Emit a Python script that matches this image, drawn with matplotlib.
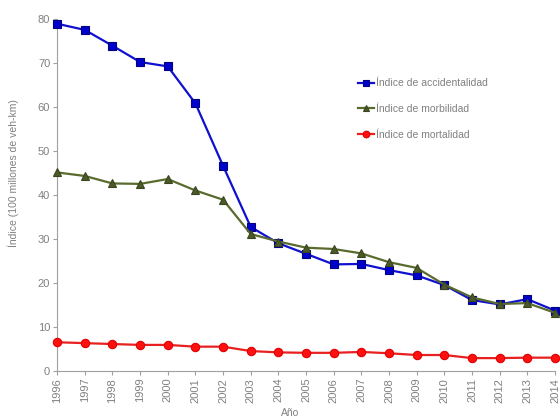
import matplotlib
matplotlib.use("Agg")
import matplotlib.pyplot as plt
from matplotlib import font_manager

years = list(range(1996, 2015))
accidentalidad = [78.9, 77.5, 73.9, 70.2, 69.2, 60.8, 46.6, 32.7, 29.0, 26.6, 24.2, 24.3, 22.9, 21.7, 19.5, 16.1, 15.1, 16.3, 13.7]
morbilidad = [45.1, 44.3, 42.6, 42.5, 43.6, 41.0, 38.9, 31.1, 29.4, 28.0, 27.7, 26.7, 24.7, 23.4, 19.6, 16.7, 15.2, 15.4, 13.2]
mortalidad = [6.5, 6.3, 6.1, 5.9, 5.9, 5.5, 5.5, 4.5, 4.2, 4.1, 4.1, 4.3, 4.0, 3.6, 3.6, 2.9, 2.9, 3.0, 3.0]
labels = ["Índice de accidentalidad", "Índice de morbilidad", "Índice de mortalidad"]
yticks = [0, 10, 20, 30, 40, 50, 60, 70, 80]

names = {f.name for f in font_manager.fontManager.ttflist}
fam = "Liberation Sans Narrow" if "Liberation Sans Narrow" in names else "Liberation Sans"
plt.rcParams['font.family'] = [fam, 'DejaVu Sans']

gray = "#808080"
fig = plt.figure(figsize=(5.6, 4.2), dpi=100)
ax = fig.add_axes([0.102, 0.117, 0.889, 0.838])

ax.plot(years, accidentalidad, color="#1010D0", lw=1.6, marker="s", ms=6,
        mfc="#0000CC", mec="#000080", mew=0.8, label=labels[0], clip_on=False, zorder=3)
ax.plot(years, morbilidad, color="#5A6B2E", lw=1.6, marker="^", ms=6,
        mfc="#4B5A28", mec="#3A4520", mew=0.8, label=labels[1], clip_on=False, zorder=4)
ax.plot(years, mortalidad, color="#E82020", lw=1.6, marker="o", ms=6,
        mfc="#FF1010", mec="#E00000", mew=0.8, label=labels[2], clip_on=False, zorder=3)

ax.set_xlim(1996, 2014)
ax.set_ylim(0, 80)
ax.set_yticks(yticks)
ax.set_xticks(years)
ax.set_xticklabels([str(y) for y in years], rotation=90)
for s in ["top", "right"]:
    ax.spines[s].set_visible(False)
for s in ["left", "bottom"]:
    ax.spines[s].set_color("#A0A0A0")
ax.tick_params(axis="both", colors="#A0A0A0", labelcolor=gray, labelsize=8, length=3, pad=2)
ax.set_ylabel("Índice (100 millones de veh-km)", color=gray, fontsize=7.5)
ax.yaxis.set_label_coords(-0.076, 0.5625)
ax.set_xlabel("Año", color=gray, fontsize=7.5)
ax.xaxis.set_label_coords(0.468, -0.105)

leg = ax.legend(loc="upper left", bbox_to_anchor=(0.585, 0.858), frameon=False,
                fontsize=7.5, handlelength=1.6, handletextpad=0.2, labelspacing=1.5,
                markerscale=0.8)
for t in leg.get_texts():
    t.set_color(gray)

fig.savefig("out.png", dpi=100)
